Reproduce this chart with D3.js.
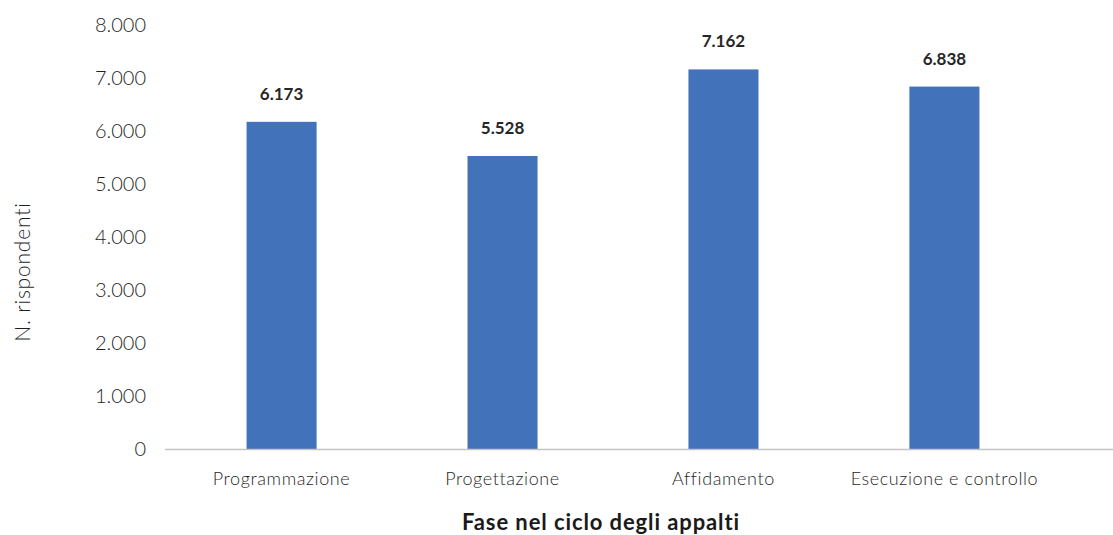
<!DOCTYPE html>
<html>
<head>
<meta charset="utf-8">
<script src="https://cdn.jsdelivr.net/npm/d3@7"></script>
<style>
  body { margin: 0; background: #fff; }
  svg { display: block; font-family: Lato, "Open Sans", sans-serif; }
</style>
</head>
<body>
<div id="chart"></div>
<script>
// Dati
const categorie = ["Programmazione", "Progettazione", "Affidamento", "Esecuzione e controllo"];
const valori = [6173, 5528, 7162, 6838];
const ticksY = [0, 1000, 2000, 3000, 4000, 5000, 6000, 7000, 8000];

const W = 1113, H = 535;
const fmt = d3.formatLocale({ decimal: ",", thousands: ".", grouping: [3], currency: ["", "€"] }).format(",");

const svg = d3.select("#chart").append("svg").attr("width", W).attr("height", H);

// scale
const x = d3.scaleBand().domain(categorie).range([171, 1055]).paddingInner(0.683).paddingOuter(0.342);
const y = d3.scaleLinear().domain([0, 8000]).range([449, 25]);

// asse y (solo etichette)
svg.append("g")
  .selectAll("text")
  .data(ticksY)
  .join("text")
  .attr("x", 146)
  .attr("y", (d) => y(d))
  .attr("dy", "0.35em")
  .attr("text-anchor", "end")
  .attr("font-size", "20px")
  .attr("font-weight", 300)
  .attr("fill", "#1f1f1f")
  .text((d) => fmt(d));

// barre
svg.append("g")
  .selectAll("rect")
  .data(valori)
  .join("rect")
  .attr("x", (d, i) => x(categorie[i]))
  .attr("width", x.bandwidth())
  .attr("y", (d) => y(d))
  .attr("height", (d) => y(0) - y(d))
  .attr("fill", "#4272b9");

// linea di base
svg.append("line")
  .attr("x1", 165).attr("x2", W)
  .attr("y1", y(0) + 0.5).attr("y2", y(0) + 0.5)
  .attr("stroke", "#c4c4c4")
  .attr("stroke-width", 1.5);

// etichette valori
svg.append("g")
  .selectAll("text")
  .data(valori)
  .join("text")
  .attr("x", (d, i) => x(categorie[i]) + x.bandwidth() / 2)
  .attr("y", (d) => y(d) - 22)
  .attr("text-anchor", "middle")
  .attr("font-size", "17px")
  .attr("font-weight", 700)
  .attr("fill", "#262626")
  .text((d) => fmt(d));

// etichette categorie
svg.append("g")
  .selectAll("text")
  .data(categorie)
  .join("text")
  .attr("x", (d) => x(d) + x.bandwidth() / 2)
  .attr("y", 485)
  .attr("text-anchor", "middle")
  .attr("font-size", "18px")
  .attr("letter-spacing", "0.6px")
  .attr("font-weight", 300)
  .attr("fill", "#1f1f1f")
  .text((d) => d);

// titoli assi
svg.append("text")
  .attr("x", 601)
  .attr("y", 530)
  .attr("text-anchor", "middle")
  .attr("font-size", "22px")
  .attr("letter-spacing", "0.9px")
  .attr("font-weight", 700)
  .attr("fill", "#1a1a1a")
  .text("Fase nel ciclo degli appalti");

svg.append("text")
  .attr("transform", "translate(30,272) rotate(-90)")
  .attr("text-anchor", "middle")
  .attr("font-size", "21px")
  .attr("letter-spacing", "0.8px")
  .attr("font-weight", 300)
  .attr("fill", "#1f1f1f")
  .text("N. rispondenti");
</script>
</body>
</html>
